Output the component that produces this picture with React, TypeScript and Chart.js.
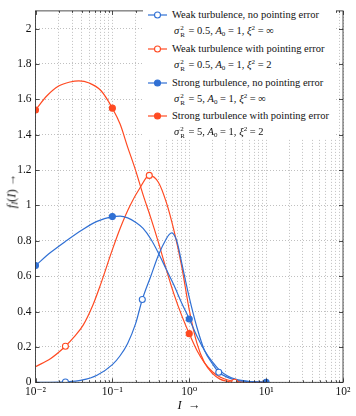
import React, { useEffect, useRef } from "react";
import { Chart, registerables } from "chart.js";
Chart.register(...registerables);

// ---- data (I values, f_I(I) values) ----
const WN_I = [0.01, 0.0158, 0.0245, 0.0398, 0.0631, 0.1, 0.126, 0.158, 0.2, 0.245, 0.316, 0.398, 0.501, 0.55, 0.593, 0.66, 0.708, 0.794, 1, 1.26, 1.58, 2, 2.42, 3.16, 3.98, 6.31, 10];
const WN_V = [0, 0, 0.002, 0.012, 0.04, 0.1, 0.15, 0.22, 0.33, 0.468, 0.6, 0.72, 0.81, 0.836, 0.845, 0.82, 0.78, 0.68, 0.48, 0.31, 0.18, 0.105, 0.057, 0.028, 0.013, 0.003, 0];

const WPE_I = [0.01, 0.0158, 0.0245, 0.0316, 0.0417, 0.0562, 0.0692, 0.1, 0.126, 0.17, 0.229, 0.302, 0.398, 0.501, 0.631, 0.794, 1, 1.26, 1.58, 2, 2.51, 3.16, 3.89, 6.31, 10];
const WPE_V = [0.088, 0.135, 0.204, 0.255, 0.323, 0.44, 0.545, 0.75, 0.87, 1.0, 1.1, 1.17, 1.13, 1.02, 0.86, 0.66, 0.41, 0.22, 0.11, 0.05, 0.018, 0.005, 0, 0, 0];

const SN_I = [0.01, 0.0158, 0.0251, 0.0398, 0.0631, 0.1, 0.126, 0.158, 0.2, 0.251, 0.316, 0.398, 0.501, 0.631, 0.794, 1, 1.26, 1.58, 2, 2.51, 3.16, 3.98, 6.31, 10];
const SN_V = [0.66, 0.735, 0.8, 0.86, 0.91, 0.937, 0.94, 0.93, 0.905, 0.87, 0.81, 0.73, 0.64, 0.55, 0.45, 0.358, 0.26, 0.18, 0.115, 0.066, 0.036, 0.018, 0.004, 0];

const SPE_I = [0.01, 0.0141, 0.02, 0.0282, 0.0367, 0.05, 0.0708, 0.1, 0.126, 0.158, 0.2, 0.251, 0.316, 0.398, 0.501, 0.631, 0.794, 1, 1.26, 1.58, 2, 2.51, 3.16, 3.98, 6.31, 10];
const SPE_V = [1.54, 1.62, 1.675, 1.698, 1.704, 1.692, 1.65, 1.55, 1.46, 1.33, 1.2, 1.06, 0.93, 0.79, 0.64, 0.5, 0.38, 0.275, 0.18, 0.11, 0.06, 0.03, 0.013, 0.005, 0.001, 0];

// markers
const WN_MARK_I = [0.0245, 0.245, 2.42];
const WN_MARK_V = [0.002, 0.468, 0.057];
const WPE_MARK_I = [0.0245, 0.302, 3.89];
const WPE_MARK_V = [0.204, 1.17, 0];
const SN_MARK_I = [0.01, 0.1, 1, 10];
const SN_MARK_V = [0.66, 0.937, 0.358, 0];
const SPE_MARK_I = [0.01, 0.1, 1];
const SPE_MARK_V = [1.54, 1.55, 0.275];

const X_TICK_VALUES = [0.01, 0.1, 1, 10, 100];
const X_TICK_LABELS = ["10\u207B\u00B2", "10\u207B\u00B9", "10\u2070", "10\u00B9", "10\u00B2"];
const Y_TICKS = [0, 0.2, 0.4, 0.6, 0.8, 1, 1.2, 1.4, 1.6, 1.8, 2];

const LEGEND_LABELS = [
  "Weak turbulence, no pointing error",
  "Weak turbulence with pointing error",
  "Strong turbulence, no pointing error",
  "Strong turbulence with pointing error",
];
const LEGEND_SIGMA = ["0.5", "0.5", "5", "5"];
const LEGEND_XI = ["\u221E", "2", "\u221E", "2"];

const BLUE = "#3070d4";
const RED = "#ff4a22";
const SERIF = "'Liberation Serif', 'DejaVu Serif', serif";

const pts = (xs: number[], ys: number[]) => xs.map((x, i) => ({ x, y: ys[i] }));

const lineDs = (label: string, xs: number[], ys: number[], color: string) => ({
  label,
  data: pts(xs, ys),
  borderColor: color,
  backgroundColor: color,
  borderWidth: 1.2,
  pointRadius: 0,
  showLine: true,
  cubicInterpolationMode: "monotone" as const,
  fill: false,
});

const markDs = (label: string, xs: number[], ys: number[], color: string, filled: boolean) => ({
  label,
  data: pts(xs, ys),
  borderColor: color,
  backgroundColor: filled ? color : "#ffffff",
  borderWidth: 1.1,
  pointRadius: 3,
  pointStyle: "circle",
  showLine: false,
});

const framePlugin = {
  id: "frame",
  afterDraw(chart: any) {
    const { ctx, chartArea: a, scales } = chart;
    const xs = scales.x;
    const ys = scales.y;
    ctx.save();
    ctx.strokeStyle = "#222";
    ctx.lineWidth = 0.8;
    ctx.beginPath();
    xs.ticks.forEach((t: any) => {
      const px = Math.round(xs.getPixelForValue(t.value)) + 0.5;
      const major = X_TICK_VALUES.some((v) => Math.abs(v - t.value) < 1e-9);
      const len = major ? 4 : 2;
      ctx.moveTo(px, a.bottom);
      ctx.lineTo(px, a.bottom - len);
      ctx.moveTo(px, a.top);
      ctx.lineTo(px, a.top + len);
    });
    ys.ticks.forEach((t: any) => {
      const py = Math.round(ys.getPixelForValue(t.value)) + 0.5;
      ctx.moveTo(a.left, py);
      ctx.lineTo(a.left + 4, py);
      ctx.moveTo(a.right, py);
      ctx.lineTo(a.right - 4, py);
    });
    ctx.stroke();
    ctx.strokeRect(a.left, a.top, a.right - a.left, a.bottom - a.top);
    ctx.restore();
  },
};

function Sym({ color, filled }: { color: string; filled: boolean }) {
  return (
    <svg width="22" height="10" style={{ position: "absolute", left: 0, top: -5 }}>
      <line x1="1" y1="5" x2="20" y2="5" stroke={color} strokeWidth="1.2" />
      <circle cx="10.5" cy="5" r="3" stroke={color} strokeWidth="1.1" fill={filled ? color : "#fff"} />
    </svg>
  );
}

function SupSub({ sup, sub }: { sup: string; sub: string }) {
  return (
    <span
      style={{
        display: "inline-flex",
        flexDirection: "column",
        fontSize: 7,
        lineHeight: "7px",
        verticalAlign: "4px",
        marginLeft: 1,
        marginRight: 1,
        fontStyle: "normal",
      }}
    >
      <span>{sup}</span>
      <span>{sub}</span>
    </span>
  );
}

export default function App() {
  const ref = useRef<HTMLCanvasElement | null>(null);

  useEffect(() => {
    if (!ref.current) return;
    const chart = new Chart(ref.current, {
      type: "scatter",
      data: {
        datasets: [
          markDs("SN marks", SN_MARK_I, SN_MARK_V, BLUE, true),
          markDs("WN marks", WN_MARK_I, WN_MARK_V, BLUE, false),
          markDs("SPE marks", SPE_MARK_I, SPE_MARK_V, RED, true),
          markDs("WPE marks", WPE_MARK_I, WPE_MARK_V, RED, false),
          lineDs(LEGEND_LABELS[2], SN_I, SN_V, BLUE),
          lineDs(LEGEND_LABELS[0], WN_I, WN_V, BLUE),
          lineDs(LEGEND_LABELS[3], SPE_I, SPE_V, RED),
          lineDs(LEGEND_LABELS[1], WPE_I, WPE_V, RED),
        ] as any,
      },
      options: {
        animation: false,
        responsive: false,
        devicePixelRatio: 1,
        layout: { padding: { top: 1, right: 13, left: 0, bottom: 0 } },
        plugins: { legend: { display: false }, tooltip: { enabled: false } },
        scales: {
          x: {
            type: "logarithmic",
            min: 0.01,
            max: 100,
            afterFit: (s: any) => {
              s.height = 33.7;
            },
            afterBuildTicks: (s: any) => {
              const t: any[] = [];
              for (let e = -2; e <= 1; e++) {
                for (let k = 1; k <= 9; k++) t.push({ value: Number((k * Math.pow(10, e)).toPrecision(6)) });
              }
              t.push({ value: 100 });
              s.ticks = t;
            },
            grid: { color: "#b0b0b0", lineWidth: 0.8, drawTicks: false },
            border: { display: false, dash: [1, 2] },
            ticks: {
              autoSkip: false,
              maxRotation: 0,
              padding: 3,
              color: "#111",
              font: { family: SERIF, size: 11.5 },
              callback: (v: any) => {
                const i = X_TICK_VALUES.findIndex((x) => Math.abs(x - Number(v)) < 1e-9);
                return i >= 0 ? X_TICK_LABELS[i] : "";
              },
            },
          },
          y: {
            type: "linear",
            min: 0,
            max: 2.1,
            afterFit: (s: any) => {
              s.width = 35.5;
            },
            afterBuildTicks: (s: any) => {
              s.ticks = Y_TICKS.map((v) => ({ value: v }));
            },
            grid: { color: "#b0b0b0", lineWidth: 0.8, drawTicks: false },
            border: { display: false, dash: [1, 2] },
            ticks: {
              padding: 4,
              color: "#111",
              font: { family: SERIF, size: 11.5 },
              callback: (v: any) => String(Number(Number(v).toFixed(1))),
            },
          },
        },
      },
      plugins: [framePlugin],
    });
    return () => chart.destroy();
  }, []);

  const entryTop = [15, 49, 82.5, 116];
  const colors = [BLUE, RED, BLUE, RED];
  const filled = [false, false, true, true];

  return (
    <div style={{ position: "absolute", left: 0, top: 0, width: 356, height: 416, background: "#fff", fontFamily: SERIF }}>
      <canvas ref={ref} width={356} height={416} style={{ position: "absolute", left: 0, top: 0, width: 356, height: 416 }} />
      <div
        style={{
          position: "absolute",
          left: 143,
          top: 2,
          width: 193,
          height: 136,
          background: "#fff",
        }}
      />
      {LEGEND_LABELS.map((lab, i) => (
        <React.Fragment key={i}>
          <div style={{ position: "absolute", left: 147, top: entryTop[i] }}>
            <Sym color={colors[i]} filled={filled[i]} />
          </div>
          <div
            style={{
              position: "absolute",
              left: 172,
              top: entryTop[i] - 7,
              fontSize: 10.5,
              lineHeight: "14px",
              whiteSpace: "nowrap",
              color: "#111",
            }}
          >
            {lab}
          </div>
          <div
            style={{
              position: "absolute",
              left: 174,
              top: entryTop[i] + 6,
              fontSize: 10.5,
              lineHeight: "14px",
              whiteSpace: "nowrap",
              color: "#111",
            }}
          >
            <i>σ</i>
            <SupSub sup="2" sub="R" /> = {LEGEND_SIGMA[i]}, <i>A</i>
            <sub style={{ fontSize: 7, verticalAlign: "-2px" }}>0</sub> = 1, <i>ξ</i>
            <sup style={{ fontSize: 7, verticalAlign: "4px" }}>2</sup> = {LEGEND_XI[i]}
          </div>
        </React.Fragment>
      ))}
      <div
        style={{
          position: "absolute",
          left: 12,
          top: 191,
          transform: "translate(-50%, -50%) rotate(-90deg)",
          fontSize: 12.5,
          whiteSpace: "nowrap",
          color: "#111",
        }}
      >
        <i>f</i>
        <sub style={{ fontSize: 8.5, verticalAlign: "-2px" }}>
          <i>I</i>
        </sub>
        (<i>I</i>) →
      </div>
      <div
        style={{
          position: "absolute",
          left: 189,
          top: 405,
          transform: "translate(-50%, -50%)",
          fontSize: 12.5,
          whiteSpace: "nowrap",
          color: "#111",
        }}
      >
        <i>I</i>&nbsp;&nbsp;→
      </div>
    </div>
  );
}
